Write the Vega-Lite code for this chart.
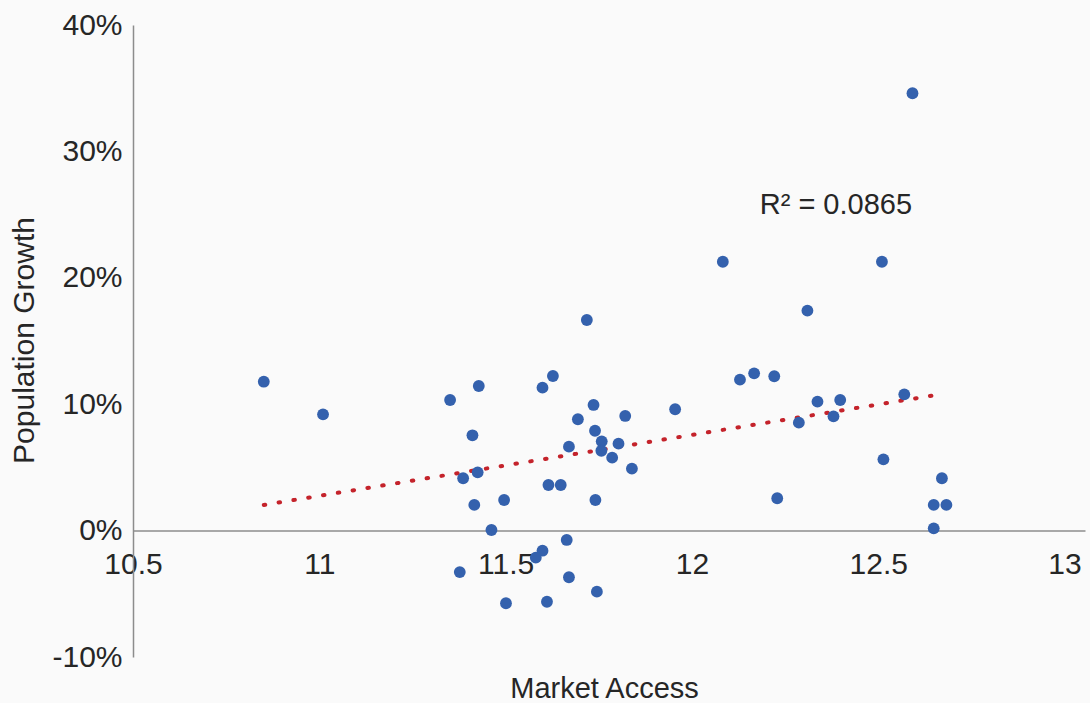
{
  "$schema": "https://vega.github.io/schema/vega-lite/v6.json",
  "width": 952,
  "height": 632,
  "autosize": "none",
  "padding": {"left": 133, "top": 25, "right": 5, "bottom": 46},
  "background": "#fafafa",
  "config": {
    "view": {"stroke": null},
    "font": "Liberation Sans",
    "axis": {"labelFont": "Liberation Sans", "titleFont": "Liberation Sans", "labelColor": "#262626", "titleColor": "#262626"}
  },
  "datasets": {
    "pts": [
      {"x": 10.851, "y": 11.78}, {"x": 11.010, "y": 9.20}, {"x": 11.351, "y": 10.33}, {"x": 11.428, "y": 11.44},
      {"x": 11.599, "y": 11.31}, {"x": 11.627, "y": 12.23}, {"x": 11.736, "y": 9.94}, {"x": 11.694, "y": 8.81},
      {"x": 11.821, "y": 9.07}, {"x": 11.955, "y": 9.60}, {"x": 11.411, "y": 7.54}, {"x": 11.740, "y": 7.90},
      {"x": 11.758, "y": 7.06}, {"x": 11.803, "y": 6.88}, {"x": 11.757, "y": 6.32}, {"x": 11.670, "y": 6.64},
      {"x": 11.786, "y": 5.77}, {"x": 11.839, "y": 4.90}, {"x": 11.386, "y": 4.14}, {"x": 11.425, "y": 4.61},
      {"x": 11.615, "y": 3.61}, {"x": 11.648, "y": 3.61}, {"x": 11.416, "y": 2.03}, {"x": 11.496, "y": 2.42},
      {"x": 11.741, "y": 2.42}, {"x": 11.462, "y": 0.05}, {"x": 11.664, "y": -0.74}, {"x": 11.599, "y": -1.59},
      {"x": 11.581, "y": -2.14}, {"x": 11.377, "y": -3.28}, {"x": 11.670, "y": -3.69}, {"x": 11.745, "y": -4.83},
      {"x": 11.501, "y": -5.75}, {"x": 11.611, "y": -5.63}, {"x": 12.083, "y": 21.27}, {"x": 12.510, "y": 21.27},
      {"x": 12.310, "y": 17.40}, {"x": 12.129, "y": 11.94}, {"x": 12.167, "y": 12.44}, {"x": 12.221, "y": 12.21},
      {"x": 12.337, "y": 10.20}, {"x": 12.398, "y": 10.33}, {"x": 12.570, "y": 10.78}, {"x": 12.287, "y": 8.54},
      {"x": 12.380, "y": 9.04}, {"x": 12.514, "y": 5.64}, {"x": 12.671, "y": 4.14}, {"x": 12.649, "y": 2.03},
      {"x": 12.683, "y": 2.03}, {"x": 12.649, "y": 0.18}, {"x": 12.229, "y": 2.56}, {"x": 12.592, "y": 34.60},
      {"x": 11.718, "y": 16.66}
    ],
    "trend": [{"x": 10.851, "y": 2.03}, {"x": 12.67, "y": 10.80}],
    "label": [{"x": 12.182, "y": 25.02, "label": "R² = 0.0865"}]
  },
  "encoding": {
    "x": {
      "field": "x", "type": "quantitative",
      "scale": {"domain": [10.5, 13.055], "nice": false, "zero": false},
      "axis": {
        "title": "Market Access", "values": [10.5, 11, 11.5, 12, 12.5, 13],
        "labelExpr": "'' + datum.value", "offset": -126.4, "grid": false, "ticks": false, "tickSize": 0,
        "labelPadding": 19, "labelBaseline": "top", "labelFontSize": 30, "labelFlush": false, "labelOverlap": false,
        "titleFontSize": 29, "titleFontWeight": "normal", "titleY": 166.4, "titleX": 471, "titleBaseline": "alphabetic",
        "domainColor": "#8c8c8c", "domainWidth": 1.5
      }
    },
    "y": {
      "field": "y", "type": "quantitative",
      "scale": {"domain": [-10, 40], "nice": false, "zero": false},
      "axis": {
        "title": "Population Growth", "values": [-10, 0, 10, 20, 30, 40],
        "labelExpr": "datum.value + '%'", "grid": false, "ticks": false, "tickSize": 0,
        "labelPadding": 11, "labelFontSize": 30, "labelFlush": false, "labelOverlap": false,
        "titleFontSize": 30, "titleFontWeight": "normal", "titleX": -100, "titleY": 315, "titleBaseline": "alphabetic", "titleAngle": -90,
        "domainColor": "#8c8c8c", "domainWidth": 1.5
      }
    }
  },
  "layer": [
    {
      "data": {"name": "trend"},
      "mark": {"type": "line", "color": "#c4232b", "strokeWidth": 4, "strokeDash": [1.5, 13.5], "strokeCap": "round"}
    },
    {
      "data": {"name": "pts"},
      "mark": {"type": "circle", "color": "#3461ad", "opacity": 1, "size": 140}
    },
    {
      "data": {"name": "label"},
      "mark": {"type": "text", "align": "left", "baseline": "alphabetic", "fontSize": 29, "color": "#262626", "font": "Liberation Sans"},
      "encoding": {"text": {"field": "label"}}
    }
  ]
}
